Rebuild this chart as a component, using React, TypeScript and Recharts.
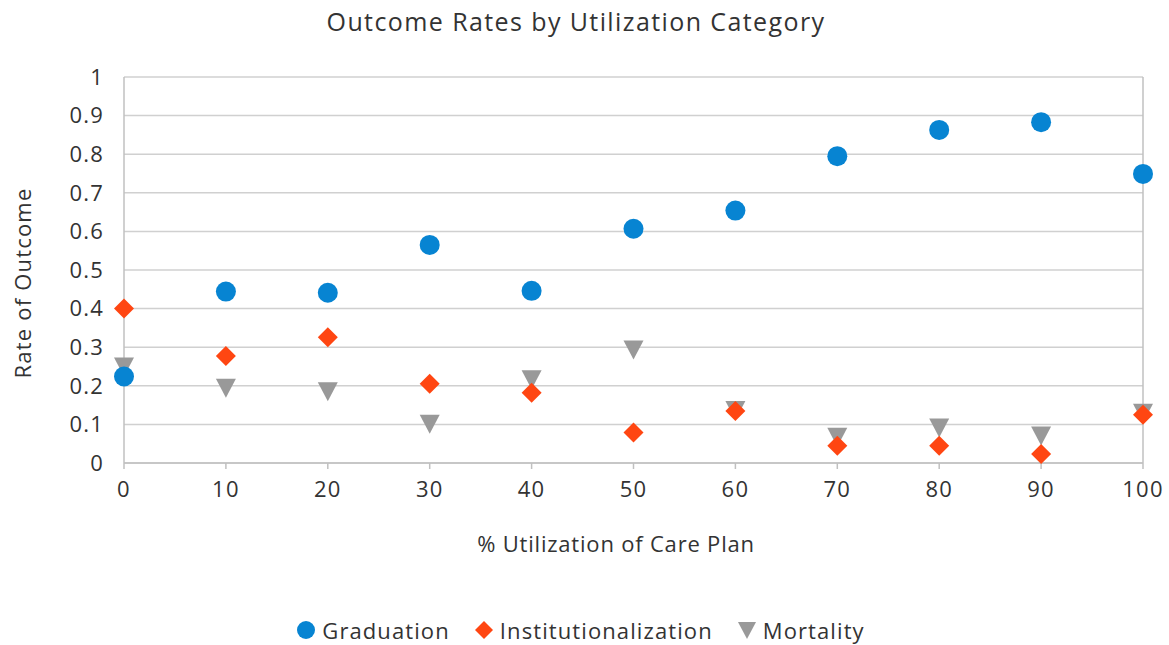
import {
  CartesianGrid,
  ReferenceLine,
  Scatter,
  ScatterChart,
  XAxis,
  YAxis,
} from "recharts";

const utilization = [0, 10, 20, 30, 40, 50, 60, 70, 80, 90, 100];
const graduation = [0.224, 0.444, 0.441, 0.565, 0.446, 0.607, 0.654, 0.795, 0.863, 0.883, 0.749];
const institutionalization = [0.4, 0.277, 0.326, 0.205, 0.182, 0.079, 0.135, 0.045, 0.045, 0.023, 0.125];
const mortality = [0.25, 0.195, 0.186, 0.102, 0.217, 0.294, 0.137, 0.068, 0.092, 0.071, 0.13];
const xTicks = [0, 10, 20, 30, 40, 50, 60, 70, 80, 90, 100];
const yTicks = [0, 0.1, 0.2, 0.3, 0.4, 0.5, 0.6, 0.7, 0.8, 0.9, 1];

const BLUE = "#0784d2";
const ORANGE = "#ff4612";
const GRAY = "#999999";
const TEXT = "#333333";
const FONT = "'Open Sans', sans-serif";

const toPoints = (vals: number[]) => utilization.map((x, i) => ({ x, y: vals[i] }));

const Dot = (p: any) => <circle cx={p.cx} cy={p.cy} r={10} fill={BLUE} />;
const Diamond = (p: any) => (
  <path
    d={`M${p.cx},${p.cy - 10}L${p.cx + 10},${p.cy}L${p.cx},${p.cy + 10}L${p.cx - 10},${p.cy}Z`}
    fill={ORANGE}
  />
);
const Tri = (p: any) => (
  <path
    d={`M${p.cx - 10},${p.cy - 9}L${p.cx + 10},${p.cy - 9}L${p.cx},${p.cy + 10}Z`}
    fill={GRAY}
  />
);

function LegendItem({ icon, label }: { icon: React.ReactNode; label: string }) {
  return (
    <div style={{ display: "flex", alignItems: "center", marginRight: 24 }}>
      <svg width={20} height={20} style={{ marginRight: 6 }}>
        {icon}
      </svg>
      <span>{label}</span>
    </div>
  );
}

const tickStyle = { fill: TEXT, fontSize: 22, fontFamily: FONT, letterSpacing: 1.2 };

export default function App() {
  return (
    <div
      style={{
        position: "absolute",
        left: 0,
        top: 0,
        width: 1169,
        height: 645,
        background: "#fff",
        fontFamily: FONT,
        color: TEXT,
      }}
    >
      <div
        style={{
          position: "absolute",
          top: 4,
          left: 0,
          width: 1152,
          textAlign: "center",
          fontSize: 25,
          letterSpacing: 1.4,
        }}
      >
        Outcome Rates by Utilization Category
      </div>
      <ScatterChart
        width={1169}
        height={645}
        margin={{ top: 77, right: 26, bottom: 142, left: 0 }}
      >
        <CartesianGrid vertical={false} stroke="#d0d0d0" strokeWidth={1.5} />
        <XAxis
          type="number"
          dataKey="x"
          domain={[0, 100]}
          ticks={xTicks}
          interval={0}
          height={40}
          axisLine={{ stroke: "#c0c0c0", strokeWidth: 1.5 }}
          tickLine={{ stroke: "#c0c0c0", strokeWidth: 1.5 }}
          tickSize={6}
          tickMargin={12}
          tick={tickStyle}
        />
        <YAxis
          type="number"
          dataKey="y"
          domain={[0, 1]}
          ticks={yTicks}
          interval={0}
          width={124}
          axisLine={{ stroke: "#c0c0c0", strokeWidth: 1.5 }}
          tickLine={false}
          tickMargin={14}
          tick={tickStyle}
        />
        <ReferenceLine x={100} stroke="#c0c0c0" strokeWidth={1.5} />
        <Scatter
          name="Mortality"
          data={toPoints(mortality)}
          shape={Tri}
          isAnimationActive={false}
        />
        <Scatter
          name="Institutionalization"
          data={toPoints(institutionalization)}
          shape={Diamond}
          isAnimationActive={false}
        />
        <Scatter
          name="Graduation"
          data={toPoints(graduation)}
          shape={Dot}
          isAnimationActive={false}
        />
      </ScatterChart>
      <div
        style={{
          position: "absolute",
          top: 528,
          left: 0,
          width: 1232,
          textAlign: "center",
          fontSize: 22,
          letterSpacing: 0.8,
        }}
      >
        % Utilization of Care Plan
      </div>
      <div
        style={{
          position: "absolute",
          left: 22,
          top: 283,
          transform: "translate(-50%, -50%) rotate(-90deg)",
          whiteSpace: "nowrap",
          fontSize: 22,
          letterSpacing: 1.2,
        }}
      >
        Rate of Outcome
      </div>
      <div
        style={{
          position: "absolute",
          top: 615,
          left: 0,
          width: 1169,
          display: "flex",
          justifyContent: "center",
          fontSize: 22,
          letterSpacing: 1.1,
          paddingLeft: 8,
        }}
      >
        <LegendItem icon={<circle cx={10} cy={10} r={9} fill={BLUE} />} label="Graduation" />
        <LegendItem icon={<path d="M10,1L19,10L10,19L1,10Z" fill={ORANGE} />} label="Institutionalization" />
        <LegendItem icon={<path d="M1,2L19,2L10,19Z" fill={GRAY} />} label="Mortality" />
      </div>
    </div>
  );
}
